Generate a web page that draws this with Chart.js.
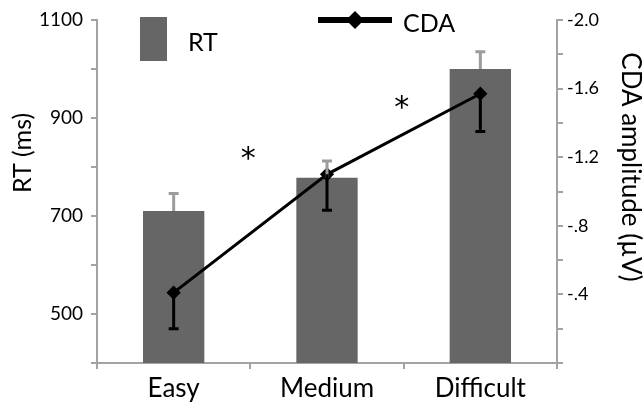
<!DOCTYPE html>
<html>
<head>
<meta charset="utf-8">
<script src="https://cdn.jsdelivr.net/npm/chart.js@4"></script>
<style>
  html, body { margin: 0; padding: 0; background: #fff; }
  #box { width: 644px; height: 404px; position: relative; }
</style>
</head>
<body>
<div id="box"><canvas id="rtChart"></canvas></div>
<script>
const categories = ['Easy', 'Medium', 'Difficult'];
const rtValues = [710, 778, 1000];
const rtErrors = [36, 34, 35];
const cdaValues = [-0.41, -1.10, -1.57];
const cdaErrors = [0.21, 0.21, 0.22];
// asterisks sit between neighbouring conditions, height in RT units
const sigPairs = [0, 1];
const sigLevels = [830, 935];

const FONT = 'Lato, "Open Sans", sans-serif';
const AXIS_GREY = '#a3a3a3';

const errorBars = {
    id: 'errorBars',
    afterDatasetsDraw(chart) {
        const c = chart.ctx;
        const x = chart.scales.x;
        const y = chart.scales.y;
        const y2 = chart.scales.y2;
        c.save();
        // RT: grey, upwards
        c.strokeStyle = '#9c9c9c';
        c.lineWidth = 3;
        rtValues.forEach((v, i) => {
            const px = x.getPixelForValue(i);
            const top = y.getPixelForValue(v + rtErrors[i]);
            c.beginPath();
            c.moveTo(px, y.getPixelForValue(v));
            c.lineTo(px, top);
            c.moveTo(px - 5, top);
            c.lineTo(px + 5, top);
            c.stroke();
        });
        // CDA: black, downwards
        c.strokeStyle = '#000';
        cdaValues.forEach((v, i) => {
            const px = x.getPixelForValue(i);
            const bot = y2.getPixelForValue(v + cdaErrors[i]);
            c.beginPath();
            c.moveTo(px, y2.getPixelForValue(v));
            c.lineTo(px, bot);
            c.moveTo(px - 5, bot);
            c.lineTo(px + 5, bot);
            c.stroke();
        });
        // significance stars
        c.fillStyle = '#000';
        c.font = '30px "DejaVu Sans"';
        c.textAlign = 'center';
        c.textBaseline = 'middle';
        sigPairs.forEach((p, k) => {
            const px = (x.getPixelForValue(p) + x.getPixelForValue(p + 1)) / 2;
            c.fillText('*', px - 2, y.getPixelForValue(sigLevels[k]) + 8);
        });
        c.restore();
    }
};

const extras = {
    id: 'extras',
    afterDraw(chart) {
        const c = chart.ctx;
        const ds = chart.data.datasets;
        c.save();
        c.textBaseline = 'middle';

        // legend
        c.fillStyle = ds[0].backgroundColor;
        c.fillRect(140, 17, 27, 44);
        c.fillStyle = '#000';
        c.font = '25px ' + FONT;
        c.textAlign = 'left';
        c.fillText(ds[0].label, 188, 43);

        c.strokeStyle = '#000';
        c.lineWidth = 6;
        c.beginPath();
        c.moveTo(318, 20);
        c.lineTo(392, 20);
        c.stroke();
        c.beginPath();
        c.moveTo(355, 11);
        c.lineTo(364, 20);
        c.lineTo(355, 29);
        c.lineTo(346, 20);
        c.closePath();
        c.fill();
        c.fillText(ds[1].label, 403, 24);

        // axis titles
        c.textAlign = 'center';
        c.font = '25px ' + FONT;
        c.save();
        c.translate(23, 153);
        c.rotate(-Math.PI / 2);
        c.fillText('RT (ms)', 0, 0);
        c.restore();

        c.font = '26px ' + FONT;
        c.save();
        c.translate(630, 167);
        c.rotate(Math.PI / 2);
        c.fillText('CDA amplitude (µV)', 0, 0);
        c.restore();
        c.restore();
    }
};

function cdaLabel(v) {
    const t = Math.round(-v * 10);
    if (t === 0 || t % 4 !== 0) return '';
    if (t >= 10) return '-' + (t / 10).toFixed(1);
    return '-.' + t;
}

new Chart(document.getElementById('rtChart'), {
    type: 'bar',
    data: {
        labels: categories,
        datasets: [{
            label: 'RT',
            data: rtValues,
            yAxisID: 'y',
            backgroundColor: '#666666',
            categoryPercentage: 1,
            barPercentage: 0.4,
            order: 1
        }, {
            type: 'line',
            label: 'CDA',
            data: cdaValues,
            yAxisID: 'y2',
            borderColor: '#000',
            borderWidth: 3,
            pointStyle: 'rectRot',
            pointRadius: 5,
            pointBackgroundColor: '#000',
            pointBorderColor: '#000',
            tension: 0,
            order: 0
        }]
    },
    options: {
        responsive: true,
        maintainAspectRatio: false,
        animation: false,
        layout: { padding: { top: 20, left: 0, right: 0, bottom: 0 } },
        plugins: {
            legend: { display: false },
            tooltip: { enabled: false }
        },
        scales: {
            x: {
                offset: true,
                grid: {
                    offset: true,
                    drawOnChartArea: false,
                    tickLength: 6,
                    color: AXIS_GREY,
                    lineWidth: 2
                },
                border: { color: AXIS_GREY, width: 2 },
                ticks: {
                    color: '#000',
                    font: { family: FONT, size: 26 },
                    padding: 4
                },
                afterFit(s) { s.height = 41; }
            },
            y: {
                position: 'left',
                min: 400,
                max: 1100,
                grid: {
                    drawOnChartArea: false,
                    tickLength: 6,
                    color: AXIS_GREY,
                    lineWidth: 2
                },
                border: { color: AXIS_GREY, width: 2 },
                ticks: {
                    stepSize: 100,
                    color: '#000',
                    font: { family: FONT, size: 19 },
                    padding: 8,
                    callback: v => (v % 200 === 100 ? String(v) : '')
                },
                afterFit(s) { s.width = 97; }
            },
            y2: {
                position: 'right',
                min: -2,
                max: 0,
                reverse: true,
                grid: {
                    drawOnChartArea: false,
                    tickLength: 6,
                    color: AXIS_GREY,
                    lineWidth: 2
                },
                border: { color: AXIS_GREY, width: 2 },
                ticks: {
                    stepSize: 0.2,
                    color: '#000',
                    font: { family: FONT, size: 18 },
                    padding: 4,
                    callback: cdaLabel
                },
                afterFit(s) { s.width = 87; }
            }
        }
    },
    plugins: [errorBars, extras]
});
</script>
</body>
</html>
